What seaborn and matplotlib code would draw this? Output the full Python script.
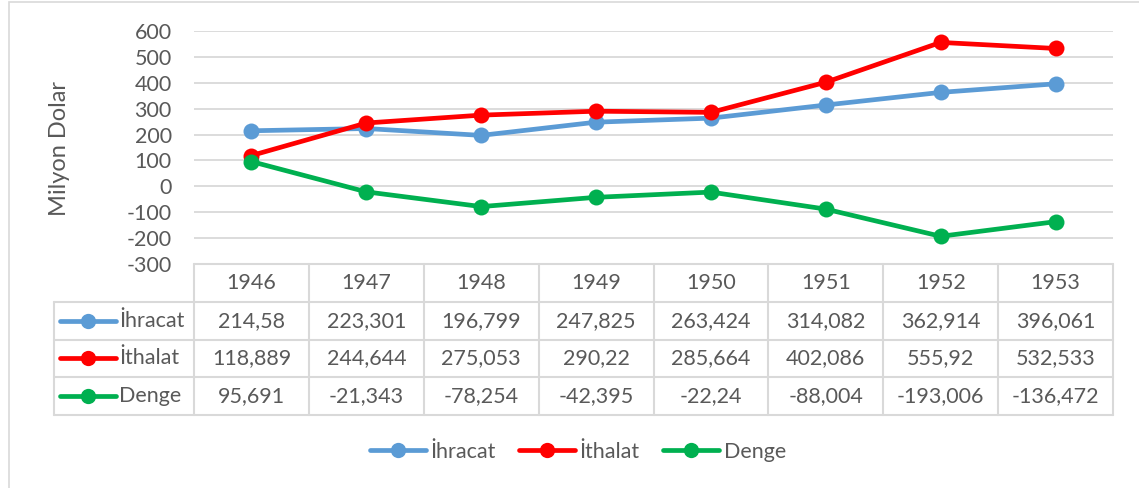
import numpy as np
import pandas as pd
import matplotlib
matplotlib.use('Agg')
import matplotlib.pyplot as plt
import seaborn as sns
from matplotlib.lines import Line2D
from matplotlib.patches import Rectangle

# Data
years = ['1946', '1947', '1948', '1949', '1950', '1951', '1952', '1953']
ihracat = [214.58, 223.301, 196.799, 247.825, 263.424, 314.082, 362.914, 396.061]
ithalat = [118.889, 244.644, 275.053, 290.22, 285.664, 402.086, 555.92, 532.533]
denge = [95.691, -21.343, -78.254, -42.395, -22.24, -88.004, -193.006, -136.472]
series_names = ['İhracat', 'İthalat', 'Denge']
colors = ['#5B9BD5', '#FF0000', '#00B050']
y_ticks = [-300, -200, -100, 0, 100, 200, 300, 400, 500, 600]

sns.set_theme(style='white')
plt.rcParams['font.family'] = ['Lato', 'DejaVu Sans']
txt = '#595959'
grid_c = '#D9D9D9'
fs = 15.5

W, H = 1139, 488
fig = plt.figure(figsize=(W / 100, H / 100), dpi=100)

def px_axes(x0, y0, x1, y1):
    return fig.add_axes([x0 / W, 1 - y1 / H, (x1 - x0) / W, (y1 - y0) / H])

# outer chart border (partly cropped)
fig.patches.append(Rectangle((9 / W, -0.1), 1.2, (H - 2) / H + 0.1, transform=fig.transFigure,
                             fill=False, edgecolor=grid_c, linewidth=1.2))

plot_l, plot_r, plot_t, plot_b = 194, 1113, 31, 264
ax = px_axes(plot_l, plot_t, plot_r, plot_b)

x = np.arange(len(years))
df = pd.DataFrame({'x': np.tile(x, 3),
                   'value': ihracat + ithalat + denge,
                   'seri': np.repeat(series_names, len(years))})
for name, col in zip(series_names, colors):
    sub = df[df['seri'] == name]
    sns.lineplot(data=sub, x='x', y='value', ax=ax, color=col, linewidth=3.4,
                 marker='o', markersize=11.5, markeredgewidth=0, solid_capstyle='round',
                 clip_on=False, zorder=3)

ax.set_xlim(-0.5, len(years) - 0.5)
ax.set_ylim(-300, 600)
ax.set_yticks(y_ticks)
ax.set_yticklabels([str(t) for t in y_ticks], fontsize=fs, color=txt)
ax.set_xticks([])
ax.set_xlabel('')
ax.set_ylabel('')
ax.tick_params(axis='y', length=0, pad=16)
for sp in ax.spines.values():
    sp.set_visible(False)
for t in y_ticks:
    ax.axhline(t, color=grid_c, linewidth=1.3, zorder=1)
fig.text(60 / W, 1 - 148 / H, 'Milyon Dolar', rotation=90, ha='center', va='center',
         fontsize=17, color=txt)

# Data table
tab_l = 54
col_w = (plot_r - plot_l) / len(years)
lab_w = (plot_l - tab_l) / col_w
tab_b = 415
tax = px_axes(tab_l, plot_b, plot_r, tab_b)
tax.set_xlim(-0.5 - lab_w, len(years) - 0.5)
tax.set_ylim(4, 0)
tax.axis('off')
lw = 1.5
# horizontal lines
tax.plot([-0.5, len(years) - 0.5], [0, 0], color=grid_c, lw=lw, clip_on=False)
for r in [1, 2, 3, 4]:
    tax.plot([-0.5 - lab_w, len(years) - 0.5], [r, r], color=grid_c, lw=lw, clip_on=False)
# vertical lines
tax.plot([-0.5 - lab_w] * 2, [1, 4], color=grid_c, lw=lw, clip_on=False)
for c in range(len(years) + 1):
    tax.plot([c - 0.5] * 2, [0, 4], color=grid_c, lw=lw, clip_on=False)

for i, yr in enumerate(years):
    tax.text(i, 0.5, yr, ha='center', va='center', fontsize=fs, color=txt)
for r, (name, vals, col) in enumerate(zip(series_names, [ihracat, ithalat, denge], colors), start=1):
    for i, v in enumerate(vals):
        tax.text(i, r + 0.5, f'{v:g}'.replace('.', ','), ha='center', va='center',
                 fontsize=fs, color=txt)
    hx0 = -0.5 - lab_w + 6 / col_w
    hx1 = hx0 + 56 / col_w
    tax.add_line(Line2D([hx0, hx1], [r + 0.5] * 2, color=col, lw=3.4,
                        solid_capstyle='round', clip_on=False))
    tax.plot([(hx0 + hx1) / 2], [r + 0.5], 'o', color=col, ms=11, mew=0, clip_on=False)
    tax.text(hx1 + 3 / col_w, r + 0.5, name, ha='left', va='center', fontsize=fs, color=txt)

# Legend
handles = [Line2D([], [], color=c, lw=3.4, marker='o', ms=11, mew=0, solid_capstyle='round')
           for c in colors]
fig.legend(handles, series_names, loc='center', bbox_to_anchor=(578 / W, 1 - 452 / H),
           ncol=3, frameon=False, fontsize=fs, handlelength=2.6, handletextpad=0.2,
           columnspacing=1.1, labelcolor=txt)

fig.savefig('out.png', dpi=100)
